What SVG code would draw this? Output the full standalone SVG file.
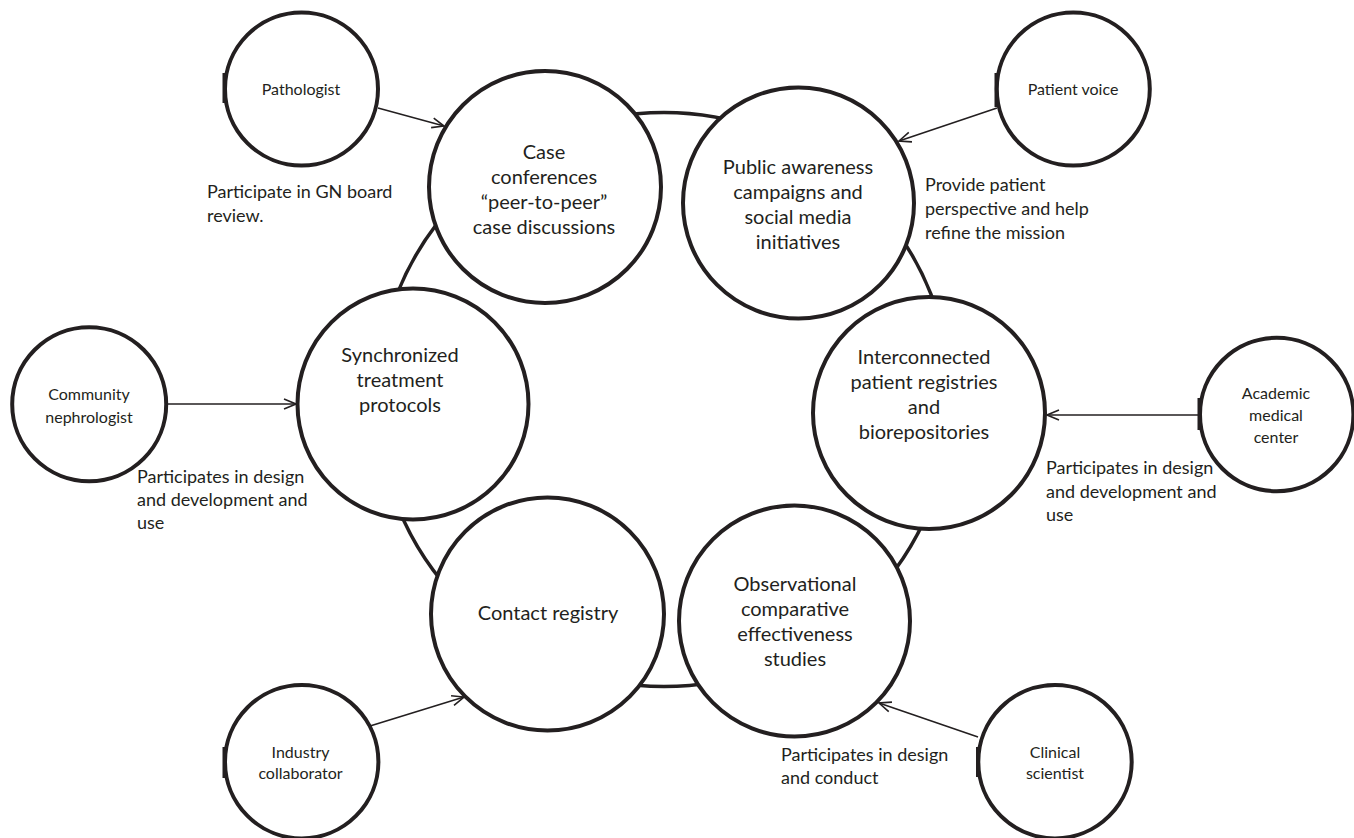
<svg xmlns="http://www.w3.org/2000/svg" width="1354" height="838" viewBox="0 0 1354 838">
<defs>
<style>
.big{fill:#fff;stroke:#231f20;stroke-width:4}
.small{fill:#fff;stroke:#231f20;stroke-width:4}
.ring{fill:none;stroke:#231f20;stroke-width:3.5}
.tick{stroke:#231f20;stroke-width:3}
.conn{stroke:#231f20;stroke-width:1.6;fill:none;marker-end:url(#ah)}
text{font-family:Lato,"Noto Sans","Liberation Sans",sans-serif;fill:#231f20}
.bt{font-size:20px;text-anchor:middle}
.st{font-size:16px;text-anchor:middle}
.lt{font-size:18px}
</style>
<marker id="ah" viewBox="0 0 14 12" refX="13" refY="6" markerWidth="14" markerHeight="12" markerUnits="userSpaceOnUse" orient="auto">
<path d="M1,1 L13,6 L1,11" fill="none" stroke="#231f20" stroke-width="1.6"/>
</marker>
</defs>
<rect width="1354" height="838" fill="#fff"/>
<g id="ring"><circle class="ring" cx="664" cy="399.5" r="287"/></g>

<g id="case"><circle class="big" cx="545" cy="187" r="116"/>
<text class="bt" x="544" y="159">Case</text>
<text class="bt" x="544" y="184">conferences</text>
<text class="bt" x="544" y="209">“peer-to-peer”</text>
<text class="bt" x="544" y="234">case discussions</text></g>

<g id="public"><circle class="big" cx="798.5" cy="203" r="115.5"/>
<text class="bt" x="798" y="174">Public awareness</text>
<text class="bt" x="798" y="199">campaigns and</text>
<text class="bt" x="798" y="224">social media</text>
<text class="bt" x="798" y="249">initiatives</text></g>

<g id="sync"><circle class="big" cx="413" cy="404" r="115.5"/>
<text class="bt" x="400" y="362">Synchronized</text>
<text class="bt" x="400" y="387">treatment</text>
<text class="bt" x="400" y="412">protocols</text></g>

<g id="interconnected"><circle class="big" cx="929" cy="413" r="116"/>
<text class="bt" x="924" y="364">Interconnected</text>
<text class="bt" x="924" y="389">patient registries</text>
<text class="bt" x="924" y="414">and</text>
<text class="bt" x="924" y="439">biorepositories</text></g>

<g id="contact"><circle class="big" cx="547.5" cy="614" r="116.5"/>
<text class="bt" x="548" y="620">Contact registry</text></g>

<g id="observational"><circle class="big" cx="794.5" cy="621" r="115.5"/>
<text class="bt" x="795" y="591">Observational</text>
<text class="bt" x="795" y="616">comparative</text>
<text class="bt" x="795" y="641">effectiveness</text>
<text class="bt" x="795" y="666">studies</text></g>

<g id="pathologist"><circle class="small" cx="301.5" cy="89" r="76.5"/>
<line class="tick" x1="224" y1="73" x2="224" y2="103"/>
<text class="st" x="301" y="94.6">Pathologist</text></g>

<g id="patient-voice"><circle class="small" cx="1073.3" cy="89" r="76.5"/>
<line class="tick" x1="996" y1="73" x2="996" y2="107"/>
<text class="st" x="1073" y="94.6">Patient voice</text></g>

<g id="community"><circle class="small" cx="89.2" cy="404.2" r="77"/>
<text class="st" x="89" y="399.6">Community</text>
<text class="st" x="89" y="422.6">nephrologist</text></g>

<g id="academic"><circle class="small" cx="1276.7" cy="414.5" r="76.7"/>
<line class="tick" x1="1199" y1="398" x2="1199" y2="430"/>
<text class="st" x="1276" y="398.6">Academic</text>
<text class="st" x="1276" y="420.6">medical</text>
<text class="st" x="1276" y="442.6">center</text></g>

<g id="industry"><circle class="small" cx="301.7" cy="761.7" r="76.7"/>
<line class="tick" x1="224" y1="747" x2="224" y2="778"/>
<text class="st" x="300.5" y="757.6">Industry</text>
<text class="st" x="300.5" y="778.6">collaborator</text></g>

<g id="clinical"><circle class="small" cx="1055" cy="761.7" r="76.7"/>
<line class="tick" x1="977.5" y1="747" x2="977.5" y2="777"/>
<text class="st" x="1055" y="757.6">Clinical</text>
<text class="st" x="1055" y="778.6">scientist</text></g>

<g id="connectors">
<line class="conn" x1="378" y1="108" x2="444" y2="126"/>
<line class="conn" x1="997" y1="108" x2="899" y2="141"/>
<line class="conn" x1="166" y1="404" x2="296" y2="404"/>
<line class="conn" x1="1200" y1="415" x2="1047" y2="415"/>
<line class="conn" x1="370" y1="726" x2="464" y2="697"/>
<line class="conn" x1="978" y1="737" x2="879" y2="703"/>
</g>

<g id="labels">
<text class="lt" x="207" y="198">Participate in GN board</text>
<text class="lt" x="207" y="222">review.</text>
<text class="lt" x="925" y="191">Provide patient</text>
<text class="lt" x="925" y="215">perspective and help</text>
<text class="lt" x="925" y="239">refine the mission</text>
<text class="lt" x="137" y="483">Participates in design</text>
<text class="lt" x="137" y="506">and development and</text>
<text class="lt" x="137" y="529">use</text>
<text class="lt" x="1046" y="474">Participates in design</text>
<text class="lt" x="1046" y="498">and development and</text>
<text class="lt" x="1046" y="521">use</text>
<text class="lt" x="781" y="761">Participates in design</text>
<text class="lt" x="781" y="784">and conduct</text>
</g>
</svg>
